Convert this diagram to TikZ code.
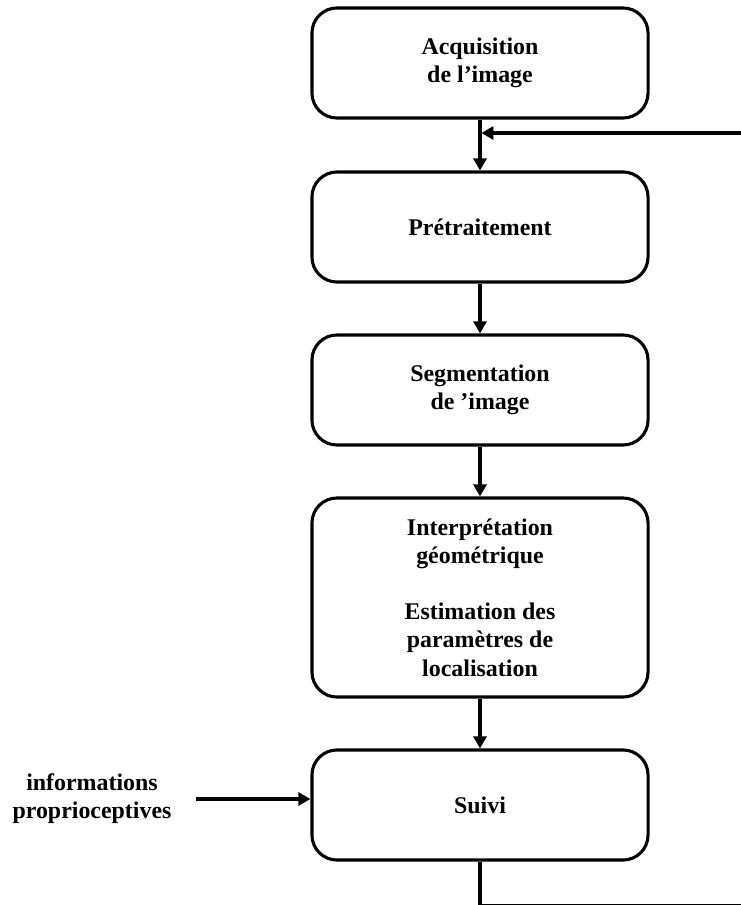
\documentclass[tikz,border=0pt]{standalone}
\usepackage{fontspec}
\setmainfont{Liberation Serif}
\usetikzlibrary{arrows.meta}
\tikzset{
    etape/.style={draw=black, line width=2.2pt, rounded corners=25*0.025cm, fill=white,
        minimum width=8.4cm, minimum height=2.75cm, align=center,
        font=\fontsize{17}{20}\selectfont\bfseries},
    fleche/.style={line width=2.2pt, -{Triangle[length=12*0.025cm, width=13*0.025cm]}},
}

\begin{document}
\begin{tikzpicture}[x=0.025cm, y=-0.025cm]
    \newcommand\posX{480}
    \useasboundingbox (0, 0) rectangle (741, 905);

    \node[etape] (acq) at (\posX, 63){Acquisition\\de l’image};
    \node[etape] (pre) at (\posX, 227){Prétraitement};
    \node[etape] (seg) at (\posX, 390){Segmentation\\de ’image};
    \node[etape, minimum height=4.975cm] (interp) at (\posX, 597.5){Interprétation\\géométrique\\[20pt]Estimation des\\paramètres de\\localisation};
    \node[etape] (suivi) at (\posX, 805){Suivi};

    \node[align=center, font=\fontsize{17}{20}\selectfont\bfseries] (info) at (92, 799){informations\\proprioceptives};

    \coordinate (retour) at (\posX, 133);

    \draw[fleche] (acq) -- (pre);
    \draw[fleche] (pre) -- (seg);
    \draw[fleche] (seg) -- (interp);
    \draw[fleche] (interp) -- (suivi);
    \draw[fleche, shorten <=20*0.025cm] (info.east) -- (suivi.west |- info.east);

    % boucle de retour (sort du cadre)
    \draw[line width=2.2pt] (suivi.south) -- (\posX, 905.5) -- (770, 905.5) -- (770, 133) -- (741, 133);
    \draw[fleche, shorten >=1pt] (741, 133) -- (retour);
\end{tikzpicture}
\end{document}
